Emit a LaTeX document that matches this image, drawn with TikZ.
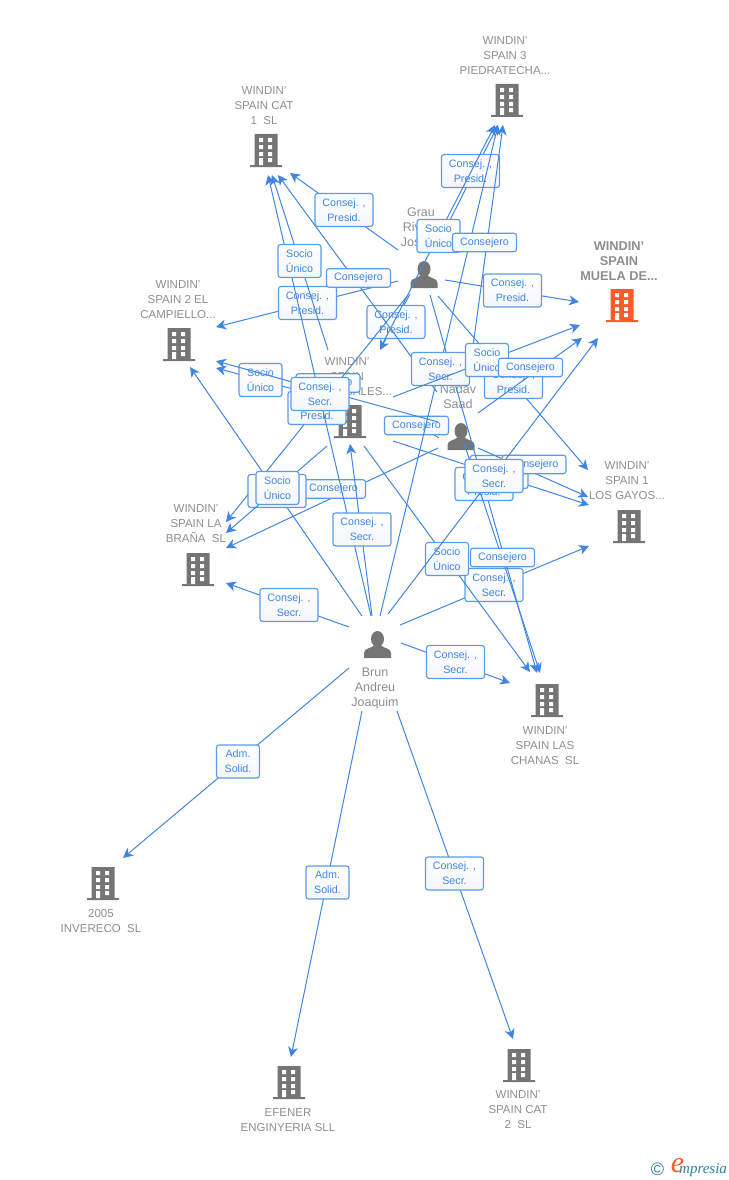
\documentclass[tikz,border=0pt]{standalone}
\usepackage{fontspec}
\setmainfont{Liberation Sans}
\newfontfamily\brandfont{Liberation Serif}
\usetikzlibrary{arrows.meta}

\definecolor{linkblue}{HTML}{3F86E3}
\definecolor{tagedge}{HTML}{5A9BE8}
\definecolor{tagshade}{HTML}{F4F6FA}
\definecolor{labelgray}{HTML}{8E8E8E}
\definecolor{icongray}{HTML}{757575}
\definecolor{hotorange}{HTML}{FF5A2A}
\definecolor{brandteal}{HTML}{2F7F9A}

\tikzset{
  link/.style={draw=linkblue,line width=1pt,-{Stealth[length=10pt,width=10pt,inset=3pt]}},
  tagbase/.style={draw=tagedge,line width=1.1pt,rounded corners=2.5pt,top color=white,bottom color=tagshade,
    text=linkblue,align=center,inner sep=0pt,font=\fontsize{10.7}{15}\selectfont},
  tagwide/.style={tagbase,minimum width=58pt,minimum height=33pt},
  tagline/.style={tagbase,minimum width=64pt,minimum height=18.5pt},
  tagnarrow/.style={tagbase,minimum width=43pt,minimum height=33pt},
  firmlabel/.style={text=labelgray,align=center,inner sep=0pt,yshift=-1pt,font=\fontsize{11.5}{15}\selectfont},
  personlabel/.style={text=labelgray,align=center,inner sep=0pt,yshift=-1pt,font=\fontsize{12.5}{15}\selectfont},
  building/.style={inner sep=0pt,minimum width=33pt,minimum height=34pt,path picture={
    \begin{scope}[shift={(path picture bounding box.center)}]
      \fill[#1] (-11.5,-16) rectangle (11.5,15) (-16,15) rectangle (16,17);
      \foreach \wy in {-12,-5,2} {
        \fill[white] (-7,\wy) rectangle +(4.2,4.2) (2,\wy) rectangle +(4.2,4.2);
      }
      \fill[white] (-7,8) rectangle (-2.8,15) (2,8) rectangle (6.2,12.2);
    \end{scope}}},
  person/.style={inner sep=0pt,minimum width=30pt,minimum height=30pt,path picture={
    \begin{scope}[shift={(path picture bounding box.center)}]
      \fill[icongray] (0,-6) ellipse (6.5 and 8);
      \fill[icongray] (-13.5,13) -- (-13.5,8) .. controls (-13.5,3) and (-6,3.5) .. (-3,0) -- (3,0)
        .. controls (6,3.5) and (13.5,3) .. (13.5,8) -- (13.5,13) -- cycle;
    \end{scope}}}
}

\begin{document}
\begin{tikzpicture}[x=1pt,y=-1pt]
\useasboundingbox (0,0) rectangle (728,1180);

% companies
\node[firmlabel] (catOneText) at (264,105) {WINDIN'\\SPAIN CAT\\1\ \ SL};
\node[building=icongray] (catOne) at (266,150) {};
\node[firmlabel] (piedText) at (505,55) {WINDIN'\\SPAIN 3\\PIEDRATECHA...};
\node[building=icongray] (pied) at (507,100) {};
\node[firmlabel,font=\fontsize{12.8}{15}\selectfont\bfseries] (muelaText) at (619,260) {WINDIN'\\SPAIN\\MUELA DE...};
\node[building=hotorange] (muela) at (622,305) {};
\node[firmlabel] (campText) at (178,299) {WINDIN'\\SPAIN 2 EL\\CAMPIELLO...};
\node[building=icongray] (camp) at (179,344) {};
\node[firmlabel] (lesText) at (347,376) {WINDIN'\\SPAIN\\LOS ROSALES...};
\node[building=icongray] (les) at (350,421) {};
\node[firmlabel] (branaText) at (196,523) {WINDIN'\\SPAIN LA\\BRAÑA\ \ SL};
\node[building=icongray] (brana) at (198,569) {};
\node[firmlabel] (gayosText) at (627,480) {WINDIN'\\SPAIN 1\\LOS GAYOS...};
\node[building=icongray] (gayos) at (629,526) {};
\node[firmlabel] (chanasText) at (545,745) {WINDIN'\\SPAIN LAS\\CHANAS\ \ SL};
\node[building=icongray] (chanas) at (547,700) {};
\node[firmlabel] (investText) at (101,920) {2005\\INVERECO\ \ SL};
\node[building=icongray] (invest) at (103,883) {};
\node[firmlabel] (efenerText) at (288,1119) {EFENER\\ENGINYERIA SLL};
\node[building=icongray] (efener) at (289,1082) {};
\node[firmlabel] (catTwoText) at (518,1109) {WINDIN'\\SPAIN CAT\\2\ \ SL};
\node[building=icongray] (catTwo) at (519,1065) {};

% people
\node[personlabel] (grauText) at (421,227) {Grau\\Rivera\\Joseph};
\node[person] (grau) at (424,275) {};
\node[personlabel] (nadavText) at (458,396) {Nadav\\Saad};
\node[person] (nadav) at (461,437) {};
\node[personlabel] (brunText) at (375,687) {Brun\\Andreu\\Joaquim};
\node[person] (brun) at (377.5,645) {};

% free ends of the connectors
\foreach \name/\sx/\sy/\ex/\ey in {
  gCat/398/250/290/173, gCamp/398/281/216/327, gPied/450/220/498/125, gMuela/445/280/579/302,
  gLes/410/294/380/350, gGayos/438/296/588/470, gChanas/430/295/537/673, gBrana/408/295/226/522,
  nCat/437/392/278/175, nPied/471/361/503/125, nMuela/478/413/582/338, nGayos/478/448/588/497,
  nChanas/464/443/540/673, nCamp/438/422/216/361, nBrana/438/448/226/548, nLes/439/438/431/433,
  lCat/328/350/272/175, lCamp/304/392/216/368, lPied/381/347/495/125, lMuela/393/397/580/325,
  lBrana/327/446/226/533, lChanas/364/446/530/672, lGayos/393/441/589/505,
  bBrana/349/627/226/583, bInvest/349/668/123/858, bEfener/362/711/291/1057, bCatTwo/397/711/513/1039,
  bChanas/401/643/510/683, bGayos/400/625/589/546, bLes/372/616/350/444, bCat/371/616/268/175,
  bPied/380/616/498/125, bMuela/388/614/598/338, bCamp/362/616/190/367}
{
  \coordinate (\name-s) at (\sx,\sy);
  \coordinate (\name-e) at (\ex,\ey);
}

% lower boxes, crossed by later lines
\draw[link] (bGayos-s) -- (bGayos-e);
\node[tagwide] (tagBGayos) at (494,585) {Consej. ,\\Secr.};
\draw[link,-] (nLes-s) -- (nLes-e);
\node[tagline] (tagNLes) at (416.5,425.5) {Consejero};
\draw[link] (lCamp-s) -- (lCamp-e);
\node[tagnarrow] (tagLCamp) at (260.5,380) {Socio\\Único};
\draw[link] (gCamp-s) -- (gCamp-e);
\node[tagwide] (tagGCamp) at (307.5,303) {Consej. ,\\Presid.};
\draw[link] (gPied-s) -- (gPied-e);
\node[tagwide] (tagGPied) at (470.5,171) {Consej. ,\\Presid.};
\draw[link] (gLes-s) -- (gLes-e);
\node[tagwide] (tagGLes) at (396,322) {Consej. ,\\Presid.};
\draw[link] (gGayos-s) -- (gGayos-e);
\node[tagwide] (tagGGayos) at (513.5,382) {Consej. ,\\Presid.};
\draw[link] (nCamp-s) -- (nCamp-e);
\node[tagline] (tagNCamp) at (328,383) {Consejero};
\draw[link] (gBrana-s) -- (gBrana-e);
\node[tagwide] (tagGBrana) at (317,408) {Consej. ,\\Presid.};
\draw[link] (lChanas-s) -- (lChanas-e);
\node[tagnarrow] (tagLChanas) at (447,559) {Socio\\Único};
\draw[link] (lGayos-s) -- (lGayos-e);
\node[tagwide] (tagLGayos) at (499,472) {Consej. ,\\Secr.};
\draw[link] (gChanas-s) -- (gChanas-e);
\node[tagwide] (tagGChanas) at (484,484) {Consej. ,\\Presid.};
\draw[link] (nGayos-s) -- (nGayos-e);
\node[tagline] (tagNGayos) at (534,464.5) {Consejero};
\draw[link] (nBrana-s) -- (nBrana-e);
\node[tagline] (tagNBrana) at (333.5,489) {Consejero};
\draw[link] (bCamp-s) -- (bCamp-e);
\node[tagwide] (tagBCamp) at (277,491) {Consej. ,\\Secr.};

% lines running over those boxes
\draw[link] (nCat-s) -- (nCat-e);
\draw[link] (nPied-s) -- (nPied-e);
\draw[link] (lPied-s) -- (lPied-e);
\draw[link] (bPied-s) -- (bPied-e);
\draw[link] (lCat-s) -- (lCat-e);
\draw[link] (bCat-s) -- (bCat-e);
\draw[link] (bLes-s) -- (bLes-e);
\draw[link] (nChanas-s) -- (nChanas-e);
\draw[link] (bMuela-s) -- (bMuela-e);
\node[tagwide] (tagBPied) at (440.5,369) {Consej. ,\\Secr.};
\draw[link] (lMuela-s) -- (lMuela-e);
\draw[link] (nMuela-s) -- (nMuela-e);
\draw[link] (gCat-s) -- (gCat-e);
\draw[link] (gMuela-s) -- (gMuela-e);
\draw[link] (lBrana-s) -- (lBrana-e);
\draw[link] (bBrana-s) -- (bBrana-e);
\draw[link] (bInvest-s) -- (bInvest-e);
\draw[link] (bEfener-s) -- (bEfener-e);
\draw[link] (bCatTwo-s) -- (bCatTwo-e);
\draw[link] (bChanas-s) -- (bChanas-e);

% boxes on top
\node[tagwide] (tagGCat) at (344,210) {Consej. ,\\Presid.};
\node[tagnarrow] (tagLCat) at (299.5,261) {Socio\\Único};
\node[tagline] (tagNCat) at (358.5,278) {Consejero};
\node[tagnarrow] (tagLPied) at (438.5,236) {Socio\\Único};
\node[tagline] (tagNPied) at (484.5,242.5) {Consejero};
\node[tagwide] (tagGMuela) at (512.5,290.5) {Consej. ,\\Presid.};
\node[tagnarrow] (tagLMuela) at (487,360) {Socio\\Único};
\node[tagline] (tagNMuela) at (530.5,367.5) {Consejero};
\node[tagwide] (tagBCat) at (320,394) {Consej. ,\\Secr.};
\node[tagnarrow] (tagLBrana) at (277.5,488) {Socio\\Único};
\node[tagwide] (tagBLes) at (362,529.5) {Consej. ,\\Secr.};
\node[tagwide] (tagBMuela) at (494,476) {Consej. ,\\Secr.};
\node[tagline] (tagNChanas) at (502.5,557.5) {Consejero};
\node[tagwide] (tagBBrana) at (289,605) {Consej. ,\\Secr.};
\node[tagwide] (tagBChanas) at (455.5,662) {Consej. ,\\Secr.};
\node[tagnarrow] (tagBInvest) at (238,761.5) {Adm.\\Solid.};
\node[tagnarrow] (tagBEfener) at (327.5,882.5) {Adm.\\Solid.};
\node[tagwide] (tagBCatTwo) at (454.5,873.5) {Consej. ,\\Secr.};

% logo
\node[text=brandteal,inner sep=0pt,font=\fontsize{18}{18}\selectfont] (copyMark) at (657.5,1169.5) {©};
\node[text=brandteal,inner sep=0pt,anchor=west,font=\brandfont\itshape\fontsize{15}{15}\selectfont] (brandName) at (679,1170) {mpresia};
\node[text=hotorange,inner sep=0pt,font=\brandfont\itshape\fontsize{30}{30}\selectfont] (brandE) at (677.5,1166) {e};

\end{tikzpicture}
\end{document}
